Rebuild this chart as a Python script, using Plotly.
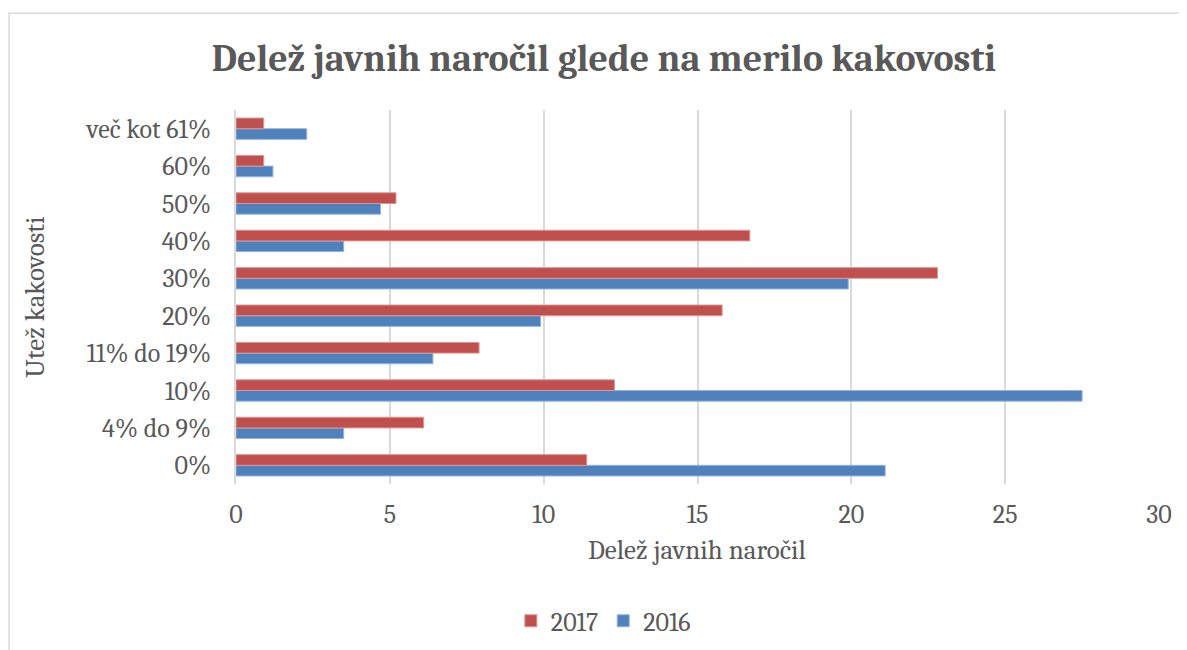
import plotly.graph_objects as go

# categories bottom -> top
categories = ["0%", "4% do 9%", "10%", "11% do 19%", "20%", "30%", "40%", "50%", "60%", "več kot 61%"]
values_2016 = [21.1, 3.5, 27.5, 6.4, 9.9, 19.9, 3.5, 4.7, 1.2, 2.3]
values_2017 = [11.4, 6.1, 12.3, 7.9, 15.8, 22.8, 16.7, 5.2, 0.9, 0.9]

font_family = "Cambria, 'Liberation Serif', serif"
text_color = "#595959"

fig = go.Figure()
fig.add_trace(go.Bar(
    y=categories, x=values_2016, name="2016", orientation="h",
    marker=dict(color="#4F81BD", line=dict(color="#95B3D7", width=1)),
))
fig.add_trace(go.Bar(
    y=categories, x=values_2017, name="2017", orientation="h",
    marker=dict(color="#C0504D", line=dict(color="#DA9694", width=1)),
))

fig.update_layout(
    width=1187, height=650,
    margin=dict(l=228, r=36, t=102, b=174),
    paper_bgcolor="white", plot_bgcolor="white",
    font=dict(family=font_family, color=text_color, size=26),
    title=dict(text="<b>Delež javnih naročil glede na merilo kakovosti</b>",
               x=0.502, xanchor="center", y=0.923, yanchor="middle",
               font=dict(size=38, color=text_color, family=font_family)),
    barmode="group", bargap=0.43, bargroupgap=0,
    legend=dict(orientation="h", traceorder="reversed",
                x=0.398, xanchor="center", y=-0.366, yanchor="middle",
                font=dict(size=26), itemwidth=30),
    showlegend=True,
)

# Set x-axis
fig.update_xaxes(
    range=[0, 30], dtick=5, showgrid=True, gridcolor="#D9D9D9", gridwidth=1.5,
    zeroline=False, showline=False, ticks="", ticklabelstandoff=12,
)

# Set y-axis
fig.update_yaxes(
    showgrid=False, showline=True, linecolor="#D9D9D9", linewidth=1.5,
    ticks="", ticklabelstandoff=18,
)

# axis titles
fig.add_annotation(text="Delež javnih naročil", xref="paper", yref="paper",
                   x=0.4995, y=-0.179, xanchor="center", yanchor="middle",
                   showarrow=False, font=dict(size=27))
fig.add_annotation(text="Utež kakovosti", xref="paper", yref="paper",
                   x=-0.218, y=0.5, xanchor="center", yanchor="middle",
                   textangle=-90, showarrow=False, font=dict(size=27))

# chart border
fig.add_shape(type="rect", xref="paper", yref="paper",
              x0=-0.2459, x1=1.2, y0=-0.6, y1=1.259,
              line=dict(color="#D9D9D9", width=1.5), fillcolor="rgba(0,0,0,0)", layer="below")

fig.write_html("out.html")
